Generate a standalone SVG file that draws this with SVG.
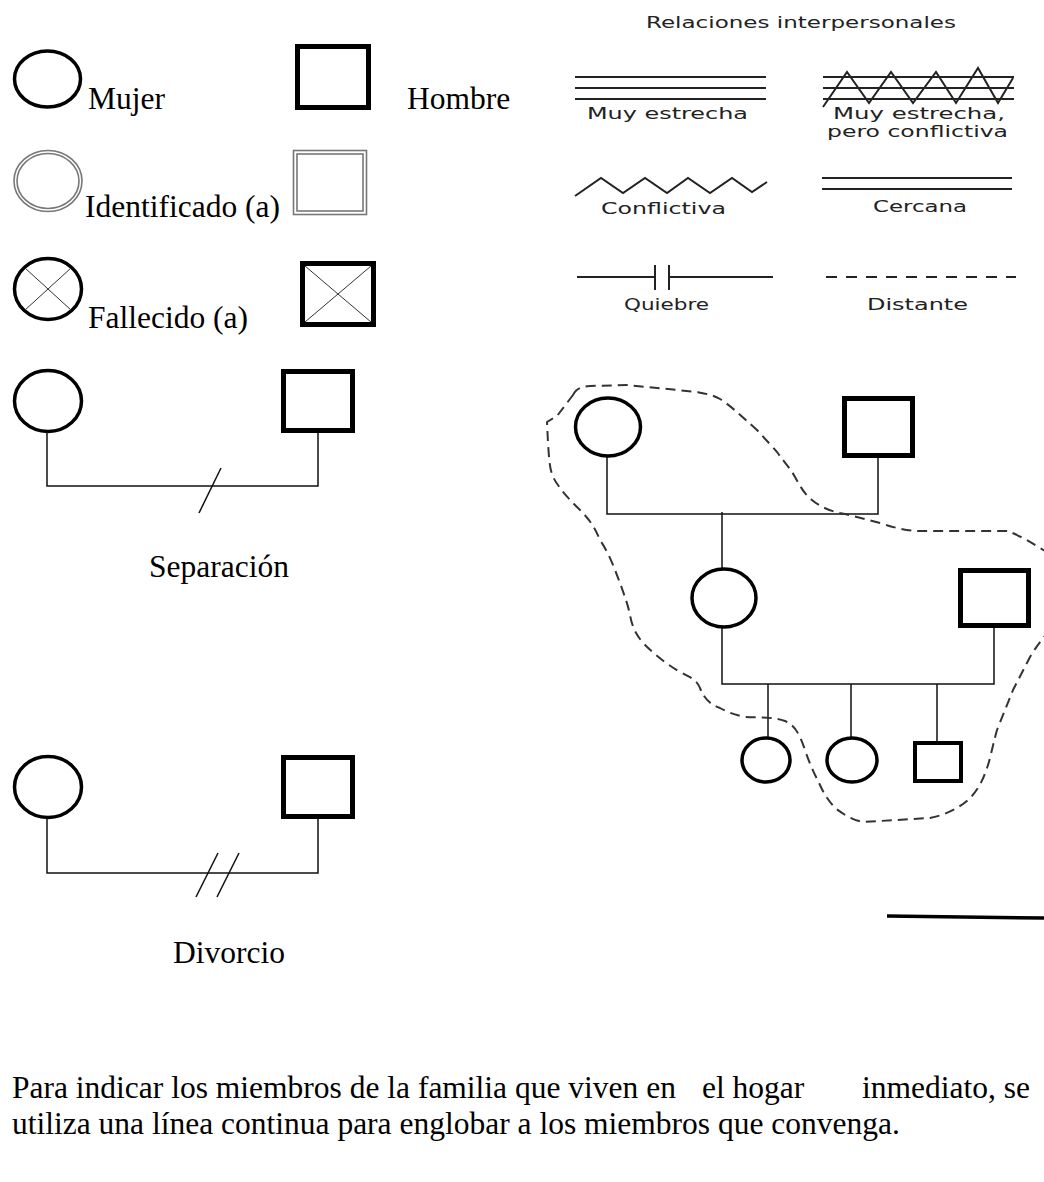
<svg xmlns="http://www.w3.org/2000/svg" width="1044" height="1182" viewBox="0 0 1044 1182">
<style>
.t{font-family:"Liberation Serif","Times New Roman",serif;font-size:31.5px;fill:#000}
.s{font-family:"DejaVu Sans","Liberation Sans",sans-serif;font-size:15px;fill:#222}
.f{fill:none;stroke:#000}
.thick{fill:none;stroke:#000;stroke-width:3.5}
.sq{fill:none;stroke:#000;stroke-width:5}
.thin{fill:none;stroke:#111;stroke-width:1.5}
.cross{stroke:#333;stroke-width:1}
.rel{fill:none;stroke:#222;stroke-width:2}
.id{fill:none;stroke:#777;stroke-width:1.6}
</style>
<rect width="1044" height="1182" fill="#fff"/>

<g id="legend-mujer">
<ellipse class="thick" cx="47.5" cy="79" rx="33" ry="28"/>
<text class="t" x="88" y="109">Mujer</text>
</g>
<g id="legend-hombre">
<rect class="sq" x="297.5" y="46.5" width="71" height="61"/>
<text class="t" x="407" y="109">Hombre</text>
</g>
<g id="legend-identificado-mujer">
<ellipse class="id" cx="48" cy="181" rx="34" ry="30.5"/>
<ellipse class="id" cx="48" cy="181" rx="31" ry="27.5"/>
<text class="t" x="85" y="217">Identificado (a)</text>
</g>
<g id="legend-identificado-hombre">
<rect class="id" x="293.5" y="150.5" width="73" height="64"/>
<rect class="id" x="297" y="154" width="66" height="57"/>
</g>
<g id="legend-fallecido-mujer">
<ellipse class="thick" cx="48" cy="289" rx="33.5" ry="30.5"/>
<line class="cross" x1="25" y1="268" x2="71" y2="310"/>
<line class="cross" x1="71" y1="268" x2="25" y2="310"/>
<text class="t" x="88" y="328">Fallecido (a)</text>
</g>
<g id="legend-fallecido-hombre">
<rect class="sq" x="302.5" y="263.5" width="71" height="61"/>
<line class="cross" x1="305" y1="266" x2="371" y2="322"/>
<line class="cross" x1="371" y1="266" x2="305" y2="322"/>
</g>

<g id="separacion">
<ellipse class="thick" cx="48" cy="401" rx="33.5" ry="30.5"/>
<rect class="sq" x="283.5" y="371.5" width="69" height="59"/>
<path class="thin" d="M47 432V486H318V433"/>
<line class="thin" x1="199" y1="513" x2="221" y2="468"/>
<text class="t" x="149" y="577">Separación</text>
</g>

<g id="divorcio">
<ellipse class="thick" cx="48" cy="787" rx="33.5" ry="30.5"/>
<rect class="sq" x="283.5" y="757.5" width="69" height="59"/>
<path class="thin" d="M47 818V873H318V819"/>
<line class="thin" x1="196" y1="897" x2="218" y2="853"/>
<line class="thin" x1="217" y1="897" x2="239" y2="853"/>
<text class="t" x="173" y="963">Divorcio</text>
</g>

<g id="relaciones">
<text class="s" x="646" y="28" textLength="310" lengthAdjust="spacingAndGlyphs">Relaciones interpersonales</text>
<g id="rel-muy-estrecha">
<path class="rel" d="M575 77H766M575 88H766M575 99H766"/>
<text class="s" x="587" y="119" textLength="161" lengthAdjust="spacingAndGlyphs">Muy estrecha</text>
</g>
<g id="rel-muy-estrecha-conflictiva">
<path class="rel" d="M823 77H1014M823 88H1014M823 99H1014"/>
<polyline class="rel" points="823,107 847,72 869,103 891,72 913,103 936,72 956,103 978,68 998,103 1013,78"/>
<text class="s" x="833" y="119" textLength="172" lengthAdjust="spacingAndGlyphs">Muy estrecha,</text>
<text class="s" x="827" y="137" textLength="181" lengthAdjust="spacingAndGlyphs">pero conflictiva</text>
</g>
<g id="rel-conflictiva">
<polyline class="rel" points="575,196 601,178 623,193 645,178 667,193 688,178 710,193 732,178 752,192 767,182"/>
<text class="s" x="601" y="214" textLength="125" lengthAdjust="spacingAndGlyphs">Conflictiva</text>
</g>
<g id="rel-cercana">
<line class="rel" x1="822" y1="178" x2="1012" y2="178"/>
<line class="rel" x1="822" y1="189" x2="1012" y2="189" stroke-width="3"/>
<text class="s" x="873" y="212" textLength="94" lengthAdjust="spacingAndGlyphs">Cercana</text>
</g>
<g id="rel-quiebre">
<path class="rel" d="M577 277H655M669 277H773"/>
<path class="rel" d="M655 265V290M669 265V290" stroke-width="3"/>
<text class="s" x="624" y="310" textLength="85" lengthAdjust="spacingAndGlyphs">Quiebre</text>
</g>
<g id="rel-distante">
<line class="rel" x1="826" y1="277" x2="1016" y2="277" stroke-dasharray="11 9"/>
<text class="s" x="867" y="310" textLength="101" lengthAdjust="spacingAndGlyphs">Distante</text>
</g>
</g>

<g id="connectors">
<path class="thin" d="M607 456V514H878V458M722 512V568M722 627V684H994V628M768 684V738M851 684V738M937 684V743"/>
</g>
<g id="abuela"><ellipse class="thick" cx="608" cy="427" rx="32.5" ry="29"/></g>
<g id="abuelo"><rect class="sq" x="844.5" y="398.5" width="68" height="57"/></g>
<g id="madre"><ellipse class="thick" cx="724" cy="598" rx="32" ry="29"/></g>
<g id="padre"><rect class="sq" x="960.5" y="570.5" width="68" height="55"/></g>
<g id="hija1"><ellipse class="thick" cx="766" cy="760" rx="24" ry="22"/></g>
<g id="hija2"><ellipse class="thick" cx="852" cy="760" rx="25" ry="22"/></g>
<g id="hijo"><rect class="f" stroke-width="4" x="915" y="743" width="46" height="38"/></g>

<g id="hogar">
<path fill="none" stroke="#333" stroke-width="2" stroke-dasharray="10 6" stroke-linejoin="round" d="M573 395 C576 389 580 387 590 386 L627 385 L697 392 C707 394 713 395 720 399 C730 405 740 415 757 430 C766 440 772 446 777 452 C785 463 790 468 795 477 C800 486 805 495 812 500 C820 507 832 512 845 514 L880 523 C895 528 905 530 915 531 L1007 531 C1020 535 1035 545 1060 560 L1060 620 C1050 630 1040 640 1030 657 L1013 690 L997 730 C992 748 990 760 987 768 C983 780 978 790 970 798 C960 808 945 815 930 818 L863 822 C852 820 843 814 835 808 C828 800 824 794 820 785 C815 775 810 765 805 750 C800 735 795 725 785 721 C770 716 755 718 745 717 C735 715 727 712 720 708 C710 704 705 700 700 688 C697 680 690 677 680 672 C665 663 655 655 643 643 C635 633 632 626 630 615 C628 605 625 597 620 583 C615 570 610 555 600 540 C595 528 590 520 580 510 C570 500 560 490 553 477 C549 467 549 455 548 443 L547 422 L557 416 Z"/>
</g>

<line x1="887" y1="916" x2="1044" y2="918" stroke="#000" stroke-width="3.5"/>

<g id="parrafo">
<text class="t" x="12" y="1098">Para indicar los miembros de la familia que viven en<tspan x="702">el hogar</tspan><tspan x="862">inmediato, se</tspan></text>
<text class="t" x="12" y="1134">utiliza una línea continua para englobar a los miembros que convenga.</text>
</g>
</svg>
